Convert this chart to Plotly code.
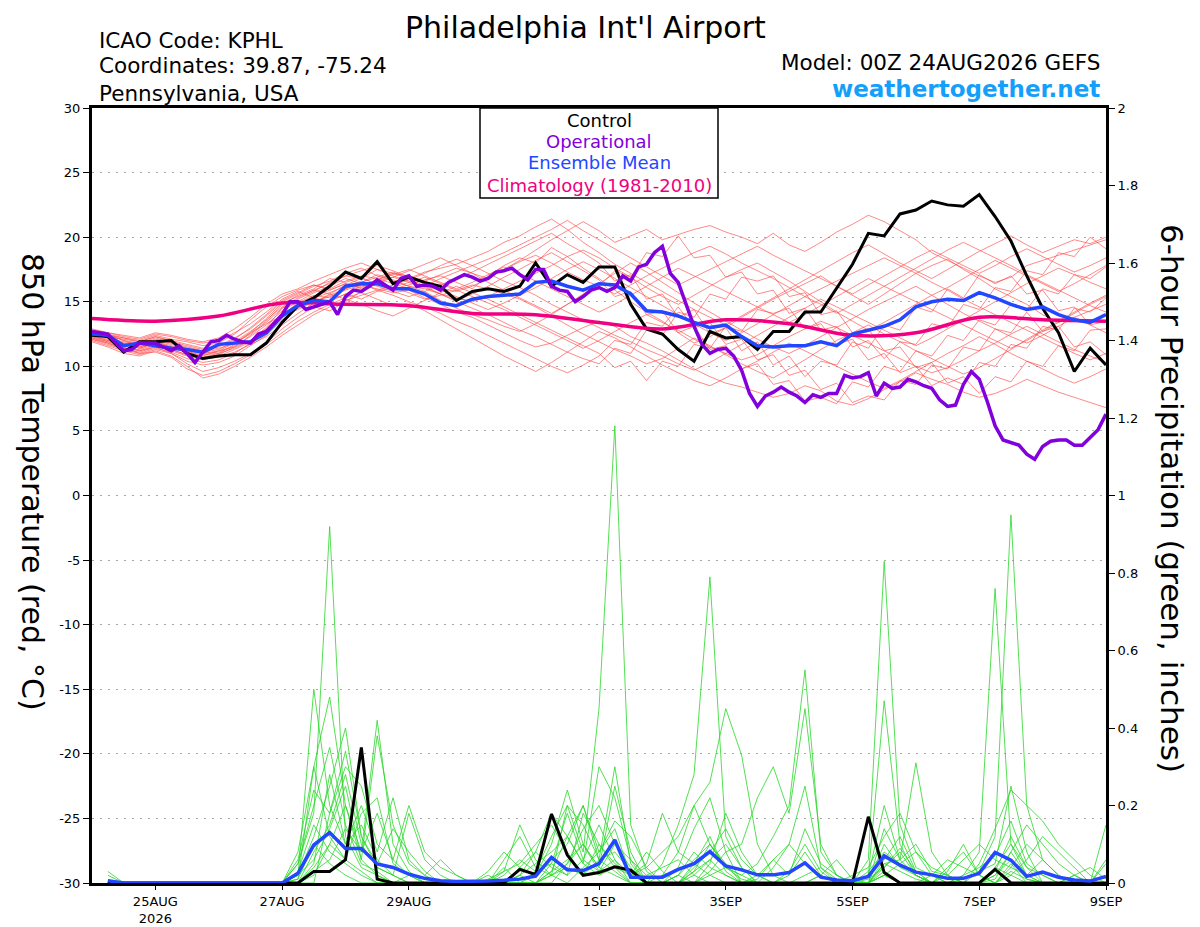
import pandas as pd
import plotly.graph_objects as go

# time axes (6-hourly ensemble, 3-hourly operational, daily climatology)
temp_times = pd.date_range("2026-08-24 00:00", periods=65, freq="6h")
precip_times = pd.date_range("2026-08-24 06:00", periods=64, freq="6h")
oper_times = pd.date_range("2026-08-24 00:00", periods=129, freq="3h")
clim_times = pd.date_range("2026-08-24 00:00", periods=17, freq="D")

tick_dates = ["2026-08-25", "2026-08-27", "2026-08-29", "2026-09-01",
              "2026-09-03", "2026-09-05", "2026-09-07", "2026-09-09"]
tick_labels = ["25AUG<br>2026", "27AUG", "29AUG", "1SEP", "3SEP", "5SEP", "7SEP", "9SEP"]
temp_ticks = [-30, -25, -20, -15, -10, -5, 0, 5, 10, 15, 20, 25, 30]
temp_tick_labels = ["-30", "-25", "-20", "-15", "-10", "-5", "0", "5", "10", "15", "20", "25", "30"]

control_temp = [
    12.4, 12.3, 11.1, 11.9, 11.9, 12.0, 11.0, 10.6, 10.8, 10.9, 10.9, 11.8, 13.4,
    14.7, 15.3, 16.2, 17.3, 16.8, 18.1, 16.4, 16.9, 16.5, 16.2, 15.1, 15.8, 16.0,
    15.8, 16.2, 18.0, 16.2, 17.1, 16.5, 17.7, 17.7, 14.8, 12.9, 12.5, 11.3, 10.4,
    12.7, 12.2, 12.3, 11.3, 12.7, 12.7, 14.2, 14.2, 16.1, 17.9, 20.3, 20.1, 21.8,
    22.1, 22.8, 22.5, 22.4, 23.3, 21.6, 19.7, 17.0, 14.5, 12.6, 9.6, 11.4, 10.1,
]

mean_temp = [
    12.5, 12.4, 11.6, 11.8, 11.6, 11.4, 11.3, 11.1, 11.7, 11.8, 11.9, 12.6, 13.9,
    14.7, 15.1, 15.0, 16.2, 16.4, 16.4, 16.0, 16.0, 15.6, 14.9, 14.7, 15.2, 15.4,
    15.5, 15.6, 16.5, 16.6, 16.2, 15.9, 16.4, 16.3, 15.6, 14.3, 14.2, 13.9, 13.4,
    13.0, 13.2, 12.3, 11.6, 11.5, 11.6, 11.6, 11.9, 11.6, 12.5, 12.8, 13.1, 13.6,
    14.6, 15.0, 15.2, 15.1, 15.7, 15.3, 14.8, 14.4, 14.6, 14.0, 13.6, 13.4, 14.0,
]

oper_temp = [
    12.7, 12.6, 12.5, 11.8, 11.2, 11.3, 11.8, 11.8, 11.8, 11.5, 11.2, 11.6, 11.0,
    10.3, 11.1, 11.9, 12.0, 12.4, 12.1, 11.9, 11.8, 12.5, 12.7, 13.4, 14.0, 15.0,
    15.0, 14.4, 14.6, 14.8, 15.0, 14.0, 15.4, 15.9, 15.8, 16.2, 16.7, 16.3, 15.9,
    16.8, 17.0, 16.2, 16.3, 16.2, 15.9, 16.5, 16.8, 17.1, 16.9, 16.6, 16.8, 17.3,
    17.4, 17.6, 17.1, 16.7, 17.5, 17.5, 16.2, 15.9, 15.8, 15.0, 15.4, 15.9, 16.1,
    15.8, 16.1, 17.0, 16.6, 17.7, 17.9, 18.8, 19.3, 17.2, 16.5, 14.8, 13.1, 11.7,
    11.0, 11.3, 11.4, 10.8, 9.7, 7.9, 6.9, 7.7, 8.0, 8.4, 8.0, 7.7, 7.2, 7.8, 7.6,
    7.9, 7.9, 9.3, 9.1, 9.2, 9.5, 7.7, 8.7, 8.3, 8.4, 9.0, 8.8, 8.5, 8.3, 7.4, 6.9,
    7.0, 8.6, 9.6, 9.0, 7.3, 5.4, 4.3, 4.1, 3.9, 3.2, 2.8, 3.8, 4.2, 4.3, 4.3, 3.9,
    3.9, 4.5, 5.1, 6.3,
]

clim_temp = [13.7, 13.5, 13.9, 14.9, 14.8, 14.7, 14.1, 14.0, 13.4,
             12.9, 13.6, 13.3, 12.4, 12.6, 13.8, 13.6, 13.5]

member_temps = [
    [12.6, 12.2, 11.8, 11.5, 11.9, 11.6, 11.0, 10.8, 11.2, 11.5, 12.0, 13.0, 14.5, 15.2, 15.8, 16.5,
     17.0, 16.8, 17.5, 17.2, 16.8, 16.5, 16.0, 15.8, 16.2, 16.8, 17.5, 18.2, 19.0, 19.8, 20.5, 21.2,
     20.5, 19.6, 20.1, 20.6, 19.8, 20.2, 20.6, 20.9, 20.4, 20.0, 19.5, 20.3, 19.4, 18.9, 19.6, 20.4,
     21.0, 21.7, 21.2, 20.5, 19.8, 18.8, 18.2, 17.6, 17.0, 16.5, 16.9, 17.8, 18.2, 18.6, 19.0, 19.4, 19.8],
    [12.2, 11.9, 11.4, 11.2, 11.5, 11.0, 10.4, 10.1, 10.3, 10.8, 11.6, 12.4, 13.6, 14.5, 15.0, 15.4,
     15.9, 16.3, 16.0, 15.7, 15.9, 15.3, 14.8, 14.2, 13.8, 13.2, 12.6, 12.0, 11.5, 11.8, 12.4, 13.0,
     13.5, 13.1, 12.3, 11.8, 11.2, 10.5, 9.8, 9.2, 8.7, 8.4, 8.0, 7.6, 7.9, 8.5, 8.1, 7.3,
     7.0, 7.5, 8.2, 8.8, 9.5, 9.0, 8.6, 8.0, 7.6, 7.9, 8.4, 9.0, 8.5, 8.0, 7.6, 7.2, 6.8],
    [12.8, 12.5, 12.0, 11.8, 12.2, 11.8, 11.5, 11.2, 11.4, 11.8, 12.5, 13.5, 14.8, 15.5, 16.0, 16.8,
     16.5, 16.9, 16.3, 16.0, 16.3, 16.7, 17.0, 16.5, 16.0, 17.0, 17.8, 18.4, 18.0, 19.2, 18.5, 17.6,
     16.8, 15.9, 15.0, 14.2, 13.5, 12.6, 11.8, 12.3, 13.0, 13.8, 14.5, 15.2, 15.8, 16.4, 17.0, 16.2,
     15.5, 14.8, 15.6, 16.4, 17.2, 17.8, 18.3, 17.5, 16.8, 16.0, 15.4, 14.8, 14.0, 13.4, 13.8, 14.3, 14.8],
    [12.0, 11.6, 11.2, 10.9, 11.3, 11.0, 10.2, 9.6, 9.9, 10.4, 11.0, 11.8, 12.9, 13.8, 14.6, 15.1,
     15.6, 15.2, 15.8, 16.1, 15.7, 15.2, 15.5, 15.9, 16.3, 16.0, 15.6, 15.2, 14.6, 13.9, 13.2, 12.5,
     11.9, 11.3, 10.8, 10.2, 10.6, 11.4, 12.2, 11.6, 10.9, 10.2, 9.6, 9.1, 9.8, 10.5, 11.3, 12.0,
     12.6, 13.2, 12.5, 11.9, 11.2, 10.6, 10.0, 9.4, 9.9, 10.6, 11.3, 12.1, 12.8, 13.5, 14.2, 14.9, 15.5],
    [12.5, 12.3, 12.1, 11.9, 12.3, 12.0, 11.7, 11.4, 11.6, 12.2, 12.9, 13.9, 15.0, 15.6, 16.2, 16.6,
     17.2, 17.6, 17.0, 16.6, 16.2, 16.0, 15.6, 15.3, 15.0, 15.4, 16.0, 16.6, 17.2, 17.8, 18.5, 19.0,
     18.4, 17.6, 16.9, 16.1, 15.4, 14.8, 15.5, 16.2, 16.9, 17.5, 18.0, 17.3, 16.6, 15.8, 15.0, 14.2,
     13.5, 12.8, 13.4, 14.1, 14.8, 15.5, 16.1, 16.8, 17.5, 18.2, 17.6, 17.0, 16.4, 15.8, 16.4, 17.1, 17.8],
    [12.3, 12.0, 11.6, 11.2, 11.6, 11.2, 10.8, 10.5, 10.8, 11.3, 11.9, 12.6, 13.9, 14.8, 15.4, 15.9,
     16.4, 16.0, 16.6, 16.9, 16.5, 16.9, 16.4, 15.9, 15.4, 14.9, 14.4, 13.8, 13.2, 12.6, 12.0, 11.4,
     12.0, 12.7, 13.4, 14.0, 13.4, 12.8, 12.1, 11.5, 11.0, 10.5, 10.9, 11.6, 12.3, 12.9, 13.5, 13.0,
     12.4, 11.8, 11.2, 10.6, 10.0, 9.5, 9.9, 10.5, 11.2, 11.8, 12.5, 13.1, 12.5, 11.9, 11.3, 10.8, 10.3],
    [12.7, 12.4, 12.2, 12.0, 12.4, 12.1, 11.9, 11.6, 11.8, 12.5, 13.6, 14.6, 15.4, 15.9, 16.3, 16.0,
     16.6, 17.0, 16.8, 16.4, 16.8, 17.3, 17.6, 17.9, 18.4, 18.9, 19.6, 20.1, 20.8, 21.4, 20.6, 19.6,
     18.8, 17.9, 17.2, 16.5, 15.8, 15.1, 14.4, 13.8, 13.2, 13.9, 14.6, 15.3, 16.0, 16.7, 17.4, 18.1,
     18.8, 19.4, 18.7, 18.0, 17.4, 16.8, 17.5, 18.2, 18.9, 19.5, 20.1, 19.4, 18.8, 19.3, 19.8, 19.5, 20.0],
    [12.1, 11.7, 11.3, 11.0, 11.1, 10.7, 9.8, 9.3, 9.6, 10.2, 10.9, 11.7, 12.6, 13.5, 14.2, 14.8,
     15.3, 15.7, 15.2, 14.7, 14.9, 14.3, 13.6, 12.9, 12.2, 11.5, 10.8, 10.2, 9.6, 10.3, 11.1, 11.9,
     12.7, 12.2, 11.5, 10.8, 10.1, 9.5, 8.9, 8.5, 9.1, 9.8, 10.4, 11.1, 11.8, 11.2, 10.6, 10.0,
     9.4, 8.8, 8.3, 8.9, 9.6, 10.3, 11.0, 11.6, 12.3, 11.7, 11.0, 10.4, 9.8, 9.2, 8.7, 9.2, 9.8],
    [12.9, 12.6, 12.3, 12.1, 12.5, 12.3, 12.0, 11.8, 12.0, 12.6, 13.3, 14.2, 15.2, 15.8, 15.3, 15.0,
     15.6, 16.2, 16.7, 17.2, 17.0, 16.6, 17.1, 17.6, 17.2, 16.8, 17.5, 18.1, 18.6, 18.0, 17.3, 16.7,
     16.2, 15.6, 16.3, 17.0, 17.6, 18.2, 18.8, 19.3, 18.7, 18.0, 17.4, 16.8, 16.1, 15.4, 14.8, 14.1,
     14.8, 15.5, 16.2, 16.9, 17.6, 18.3, 19.0, 19.6, 19.0, 18.4, 17.8, 17.1, 16.5, 15.9, 15.3, 14.7, 14.2],
    [12.4, 12.1, 11.5, 11.0, 11.4, 11.1, 10.6, 10.3, 10.5, 11.0, 11.8, 12.8, 14.0, 14.9, 15.5, 15.3,
     16.0, 16.5, 17.1, 16.7, 16.2, 15.8, 15.1, 14.5, 14.0, 13.6, 13.1, 12.7, 13.3, 14.0, 14.8, 15.6,
     16.4, 17.2, 18.0, 17.3, 16.5, 15.7, 14.9, 14.2, 13.5, 12.8, 12.1, 11.5, 11.0, 11.6, 12.3, 13.0,
     13.7, 14.4, 15.0, 15.6, 16.2, 15.5, 14.8, 14.1, 13.5, 12.9, 12.3, 11.8, 12.4, 13.1, 13.8, 13.2, 12.6],
    [12.6, 12.4, 12.0, 11.6, 12.0, 11.7, 11.3, 11.0, 11.1, 11.6, 12.3, 13.2, 14.3, 15.0, 15.7, 16.2,
     16.8, 16.4, 15.9, 16.3, 16.7, 17.2, 17.8, 18.3, 17.8, 17.2, 16.6, 16.1, 15.5, 14.8, 14.2, 13.6,
     13.0, 12.4, 11.9, 11.3, 10.8, 10.2, 9.7, 10.3, 11.0, 11.7, 12.4, 13.1, 13.8, 14.5, 15.2, 14.6,
     14.0, 13.4, 12.8, 12.2, 11.6, 12.2, 12.9, 13.6, 14.3, 15.0, 15.7, 16.4, 17.0, 17.6, 17.1, 16.5, 16.0],
    [12.2, 11.8, 11.4, 11.3, 11.7, 11.4, 11.1, 10.9, 11.0, 11.4, 12.0, 12.9, 14.1, 14.6, 15.3, 15.7,
     16.2, 16.6, 16.2, 15.8, 15.4, 15.8, 16.3, 16.8, 17.3, 17.9, 18.5, 19.1, 19.7, 20.3, 19.5, 18.8,
     18.0, 16.6, 17.1, 15.2, 15.6, 13.8, 14.4, 12.5, 13.0, 11.2, 11.9, 10.1, 10.8, 9.2, 10.4, 10.1,
     11.9, 11.4, 13.2, 12.8, 14.6, 14.2, 16.0, 15.3, 17.1, 16.4, 17.0, 15.6, 15.9, 14.3, 14.6, 13.2, 13.5],
    [12.5, 12.2, 11.9, 11.7, 12.1, 11.8, 11.4, 11.1, 11.3, 11.9, 12.7, 13.6, 14.6, 15.3, 15.9, 16.4,
     17.0, 17.4, 17.8, 17.4, 16.9, 16.4, 15.9, 15.4, 14.9, 14.4, 14.9, 15.5, 16.1, 16.8, 17.5, 18.1,
     17.5, 16.8, 16.1, 15.4, 14.7, 14.0, 13.3, 12.6, 12.0, 12.6, 13.3, 14.0, 14.7, 15.4, 16.0, 16.6,
     17.2, 17.8, 18.4, 17.8, 17.2, 16.5, 15.9, 15.2, 14.6, 14.0, 13.4, 12.8, 12.2, 11.6, 11.0, 10.5, 11.0],
    [12.3, 11.9, 11.7, 11.4, 11.8, 11.5, 11.2, 10.7, 11.0, 11.7, 12.6, 13.7, 14.9, 15.4, 15.9, 15.6,
     15.2, 14.8, 14.3, 13.9, 14.5, 15.1, 15.7, 16.2, 15.7, 15.2, 14.6, 14.0, 13.4, 12.8, 12.2, 11.6,
     11.0, 9.9, 10.4, 8.9, 10.4, 10.0, 11.7, 11.4, 13.1, 12.7, 14.4, 14.1, 14.5, 12.9, 13.3, 11.7,
     12.1, 10.5, 11.0, 9.5, 10.0, 8.5, 9.1, 8.6, 10.3, 10.0, 11.7, 11.4, 13.1, 12.8, 14.5, 14.2, 15.3],
    [12.8, 12.6, 12.4, 12.2, 12.6, 12.4, 12.1, 11.9, 12.2, 12.9, 13.8, 14.8, 15.6, 16.0, 16.6, 17.1,
     17.6, 18.0, 17.5, 17.0, 16.6, 16.2, 16.8, 17.3, 17.8, 18.3, 18.8, 19.4, 20.0, 20.6, 21.3, 20.5,
     19.8, 19.1, 18.4, 17.7, 17.0, 16.3, 16.9, 17.5, 18.1, 18.7, 19.3, 18.6, 18.0, 17.4, 16.8, 16.2,
     15.6, 16.3, 17.0, 17.7, 18.4, 19.0, 18.4, 17.8, 17.2, 17.8, 18.5, 19.1, 18.5, 17.9, 17.3, 17.8, 18.4],
    [11.9, 11.5, 11.0, 10.8, 11.2, 10.8, 10.0, 9.1, 9.4, 10.0, 10.7, 11.5, 12.4, 13.2, 14.0, 14.6,
     15.1, 15.5, 15.9, 15.5, 15.0, 14.6, 14.1, 13.5, 13.0, 12.4, 11.8, 11.2, 10.6, 10.0, 9.5, 10.1,
     10.8, 12.0, 11.7, 13.4, 13.1, 14.6, 13.0, 13.4, 11.7, 12.1, 10.5, 10.9, 9.3, 9.7, 8.2, 8.7,
     7.2, 7.7, 7.4, 8.9, 8.6, 10.1, 9.8, 11.5, 11.2, 12.9, 12.6, 14.2, 12.7, 13.1, 11.5, 11.9, 10.9],
    [12.6, 12.3, 11.7, 11.4, 11.8, 11.3, 10.9, 10.6, 10.9, 11.5, 12.4, 13.4, 14.5, 15.1, 14.6, 14.3,
     15.0, 15.8, 16.4, 16.9, 17.4, 17.9, 18.4, 17.8, 17.2, 16.5, 15.9, 15.3, 14.7, 14.1, 14.8, 15.5,
     16.2, 17.4, 16.9, 18.8, 18.5, 20.1, 18.4, 18.6, 16.9, 17.3, 15.6, 15.9, 14.1, 14.5, 12.8, 13.1,
     11.5, 12.0, 10.6, 11.9, 11.7, 13.3, 13.0, 14.8, 14.4, 16.1, 15.8, 17.4, 17.1, 18.8, 18.5, 20.0, 19.1],
    [12.4, 12.0, 11.8, 11.5, 11.9, 11.5, 11.2, 11.0, 11.2, 11.8, 12.6, 13.3, 13.9, 14.4, 15.0, 15.5,
     16.0, 16.5, 16.9, 17.3, 16.8, 16.2, 15.6, 15.1, 15.6, 16.2, 16.9, 17.5, 18.2, 18.8, 18.1, 17.4,
     16.7, 15.4, 15.8, 14.0, 14.3, 12.6, 13.1, 11.3, 11.6, 9.8, 10.2, 8.6, 8.9, 7.3, 7.6, 7.1,
     8.8, 8.4, 10.0, 9.6, 11.2, 10.8, 12.4, 12.0, 13.6, 13.2, 14.8, 14.4, 16.0, 15.6, 17.1, 16.8, 17.7],
    [12.1, 11.8, 11.3, 11.1, 11.5, 11.3, 10.9, 10.6, 10.7, 11.1, 11.7, 12.3, 13.2, 14.1, 14.9, 15.6,
     16.3, 16.8, 16.4, 16.1, 16.5, 16.1, 15.6, 15.0, 14.5, 14.0, 13.4, 12.8, 12.3, 11.7, 11.1, 10.6,
     10.2, 11.4, 11.0, 12.8, 12.4, 14.2, 13.8, 15.6, 15.2, 16.9, 16.6, 17.0, 15.4, 15.7, 14.0, 14.3,
     12.6, 12.9, 11.2, 11.5, 9.9, 10.3, 8.7, 9.2, 7.9, 9.2, 8.8, 10.4, 10.0, 11.6, 11.2, 12.8, 12.9],
    [12.7, 12.5, 12.2, 11.9, 12.3, 11.9, 11.6, 11.3, 11.5, 12.1, 13.0, 14.0, 15.1, 15.7, 16.3, 15.9,
     16.4, 16.1, 16.7, 17.1, 17.5, 17.0, 16.5, 16.0, 16.5, 17.1, 17.7, 17.2, 16.6, 16.0, 15.4, 14.8,
     14.2, 14.8, 15.5, 16.2, 16.9, 17.6, 17.0, 16.4, 15.8, 15.2, 14.6, 14.0, 13.4, 14.0, 14.7, 15.4,
     16.1, 16.8, 16.2, 15.6, 15.0, 14.4, 13.8, 13.2, 12.6, 12.0, 11.4, 12.0, 12.7, 13.4, 14.1, 14.8, 15.4],
]

control_precip = [
    0, 0, 0, 0, 0, 0, 0, 0, 0, 0, 0, 0, 0, 0.03, 0.03, 0.06,
    0.35, 0.01, 0, 0, 0, 0, 0, 0, 0, 0, 0.035, 0.022, 0.178, 0.072, 0.02, 0.027,
    0.042, 0.033, 0, 0, 0, 0, 0, 0, 0, 0, 0, 0, 0, 0, 0, 0,
    0.171, 0.027, 0, 0, 0, 0, 0, 0, 0.035, 0, 0, 0, 0, 0, 0, 0,
]

mean_precip = [
    0.006, 0, 0, 0, 0, 0, 0, 0, 0, 0, 0, 0, 0.025, 0.098, 0.13, 0.089,
    0.089, 0.049, 0.04, 0.023, 0.012, 0.006, 0.004, 0.004, 0.005, 0.007, 0.01, 0.018, 0.066, 0.034, 0.032, 0.05,
    0.111, 0.015, 0.015, 0.015, 0.035, 0.05, 0.081, 0.044, 0.034, 0.021, 0.021, 0.027, 0.052, 0.015, 0.008, 0.006,
    0.017, 0.07, 0.046, 0.028, 0.021, 0.012, 0.012, 0.025, 0.079, 0.059, 0.017, 0.028, 0.015, 0.008, 0.005, 0.017,
]

member_precips = [
    [0.03, 0, 0, 0, 0, 0, 0, 0, 0, 0, 0, 0, 0.05, 0.18, 0.92, 0.12, 0.04, 0.02, 0, 0, 0, 0, 0, 0,
     0, 0, 0.02, 0.05, 0.08, 0.12, 0.05, 0.02, 0.04, 0, 0, 0, 0, 0.05, 0.12, 0.03, 0, 0, 0, 0.02,
     0.08, 0.02, 0, 0, 0, 0.06, 0.12, 0.03, 0, 0, 0, 0, 0.02, 0.06, 0.01, 0, 0, 0, 0, 0],
    [0, 0, 0, 0, 0, 0, 0, 0, 0, 0, 0, 0, 0, 0.08, 0.15, 0.28, 0.1, 0.04, 0.02, 0, 0, 0, 0, 0,
     0, 0.02, 0.06, 0.03, 0.12, 0.2, 0.08, 0.45, 1.18, 0.15, 0.03, 0, 0, 0, 0.02, 0.04, 0.02, 0, 0, 0,
     0, 0, 0, 0, 0.02, 0.47, 0.1, 0.02, 0, 0, 0, 0.03, 0.05, 0.25, 0.08, 0, 0, 0.02, 0, 0.05],
    [0, 0, 0, 0, 0, 0, 0, 0, 0, 0, 0, 0, 0.02, 0.5, 0.2, 0.1, 0.15, 0.06, 0.02, 0, 0, 0, 0, 0,
     0, 0, 0, 0.03, 0.05, 0.18, 0.06, 0.03, 0.1, 0.04, 0, 0.05, 0.15, 0.28, 0.79, 0.12, 0.04, 0, 0, 0,
     0, 0, 0, 0, 0, 0.04, 0.08, 0.02, 0, 0.03, 0.1, 0.02, 0, 0.05, 0, 0, 0, 0, 0, 0],
    [0, 0, 0, 0, 0, 0, 0, 0, 0, 0, 0, 0, 0.01, 0.3, 0.48, 0.2, 0.08, 0.42, 0.1, 0.03, 0, 0, 0, 0,
     0, 0, 0, 0, 0.02, 0.05, 0.1, 0.04, 0.25, 0.08, 0, 0, 0, 0.03, 0.06, 0.02, 0, 0, 0, 0,
     0.02, 0.04, 0.01, 0, 0.06, 0.83, 0.15, 0.04, 0.02, 0, 0, 0, 0.01, 0.08, 0.02, 0, 0, 0, 0, 0],
    [0, 0, 0, 0, 0, 0, 0, 0, 0, 0, 0, 0, 0, 0.04, 0.1, 0.06, 0.18, 0.22, 0.05, 0.02, 0, 0, 0, 0,
     0.01, 0.03, 0.05, 0.1, 0.15, 0.08, 0.02, 0.1, 0.05, 0.02, 0, 0, 0.02, 0.06, 0.1, 0.04, 0.01, 0, 0, 0,
     0, 0, 0, 0, 0, 0.02, 0.05, 0.08, 0.02, 0, 0.01, 0.03, 0.12, 0.95, 0.2, 0.06, 0.02, 0, 0, 0],
    [0, 0, 0, 0, 0, 0, 0, 0, 0, 0, 0, 0, 0.02, 0.12, 0.25, 0.4, 0.12, 0.04, 0.02, 0.18, 0.06, 0.02, 0, 0,
     0, 0, 0, 0, 0.03, 0.06, 0.1, 0.04, 0.02, 0, 0, 0.02, 0.08, 0.2, 0.1, 0.04, 0.02, 0.05, 0.12, 0.2,
     0.55, 0.08, 0.02, 0, 0, 0.03, 0, 0, 0, 0, 0.02, 0.08, 0.76, 0.1, 0.04, 0, 0, 0, 0, 0],
    [0, 0, 0, 0, 0, 0, 0, 0, 0, 0, 0, 0, 0, 0, 0.18, 0.3, 0.25, 0.1, 0.06, 0.2, 0.08, 0.04, 0.02, 0,
     0, 0, 0.04, 0.08, 0.04, 0.02, 0.06, 0.15, 0.06, 0.02, 0.04, 0.08, 0.12, 0.2, 0.26, 0.45, 0.33, 0.1, 0.02, 0,
     0, 0.02, 0, 0, 0, 0.05, 0.06, 0.31, 0.08, 0.02, 0, 0, 0, 0.03, 0.01, 0, 0, 0, 0, 0.15],
    [0.02, 0, 0, 0, 0, 0, 0, 0, 0, 0, 0, 0, 0.03, 0.15, 0.08, 0.05, 0.02, 0, 0, 0, 0, 0, 0, 0,
     0, 0, 0.02, 0.08, 0.18, 0.12, 0.05, 0.3, 0.22, 0.06, 0, 0, 0, 0, 0.03, 0.08, 0.1, 0.22, 0.3, 0.18,
     0.45, 0.1, 0.02, 0, 0, 0.02, 0, 0, 0, 0.04, 0.08, 0.02, 0, 0.02, 0, 0, 0, 0, 0, 0],
    [0, 0, 0, 0, 0, 0, 0, 0, 0, 0, 0, 0, 0.05, 0.2, 0.35, 0.15, 0.05, 0.03, 0, 0.02, 0.01, 0, 0, 0,
     0, 0.03, 0.15, 0.06, 0.02, 0.2, 0.15, 0.06, 0.3, 0.05, 0, 0, 0.04, 0.14, 0.22, 0.08, 0, 0, 0.04, 0.1,
     0.25, 0.04, 0, 0, 0.02, 0.2, 0.06, 0.1, 0.03, 0.02, 0, 0, 0.04, 0.1, 0.02, 0.06, 0.02, 0, 0, 0],
    [0, 0, 0, 0, 0, 0, 0, 0, 0, 0, 0, 0, 0, 0.02, 0.1, 0.2, 0.06, 0.38, 0.15, 0.05, 0.02, 0, 0, 0,
     0, 0, 0, 0.02, 0.06, 0.1, 0.2, 0.08, 0.14, 0.02, 0.05, 0.18, 0.08, 0.05, 0.02, 0, 0, 0.02, 0.06, 0.1,
     0.05, 0.02, 0, 0, 0, 0.1, 0.04, 0.02, 0, 0, 0, 0.05, 0.14, 0.24, 0.2, 0.16, 0.1, 0.06, 0.02, 0],
    [0, 0, 0, 0, 0, 0, 0, 0, 0, 0, 0, 0, 0.06, 0.24, 0.18, 0.34, 0.12, 0.05, 0.14, 0.08, 0.03, 0, 0, 0,
     0, 0.06, 0.12, 0.04, 0.02, 0.04, 0.02, 0.06, 0.08, 0.03, 0, 0, 0, 0.04, 0.08, 0.14, 0.06, 0.02, 0, 0,
     0, 0, 0, 0.02, 0.04, 0.12, 0.18, 0.08, 0.04, 0.02, 0.06, 0.1, 0.06, 0.04, 0.02, 0, 0, 0, 0, 0],
    [0, 0, 0, 0, 0, 0, 0, 0, 0, 0, 0, 0, 0, 0.05, 0.28, 0.1, 0.2, 0.08, 0.22, 0.06, 0.02, 0.06, 0.02, 0,
     0, 0, 0, 0, 0.03, 0.12, 0.2, 0.06, 0.03, 0, 0, 0, 0.02, 0, 0.05, 0.18, 0.08, 0.02, 0, 0,
     0, 0, 0, 0, 0.01, 0.04, 0.09, 0.03, 0, 0, 0.02, 0.04, 0.07, 0.16, 0.05, 0.02, 0, 0.02, 0.04, 0.01],
    [0, 0, 0, 0, 0, 0, 0, 0, 0, 0, 0, 0, 0.01, 0.1, 0.05, 0.02, 0, 0, 0, 0, 0, 0, 0, 0,
     0.03, 0.08, 0.04, 0.02, 0.1, 0.24, 0.1, 0.03, 0.06, 0, 0, 0, 0.02, 0.08, 0.04, 0.02, 0, 0, 0, 0,
     0, 0, 0, 0, 0.03, 0.08, 0.05, 0.02, 0, 0, 0, 0, 0.02, 0.08, 0.15, 0.1, 0.05, 0.02, 0, 0],
    [0, 0, 0, 0, 0, 0, 0, 0, 0, 0, 0, 0, 0, 0.03, 0.06, 0.14, 0.08, 0.18, 0.06, 0.02, 0, 0, 0, 0,
     0, 0, 0, 0, 0, 0.05, 0.14, 0.2, 0.1, 0.06, 0.02, 0.04, 0.06, 0.02, 0, 0, 0, 0.01, 0.06, 0.02,
     0.14, 0.05, 0.02, 0, 0, 0.05, 0.03, 0.01, 0, 0, 0, 0, 0.04, 0.02, 0.06, 0.12, 0.08, 0.04, 0, 0],
    [0, 0, 0, 0, 0, 0, 0, 0, 0, 0, 0, 0, 0.08, 0.3, 0.12, 0.06, 0.03, 0, 0, 0, 0, 0, 0, 0,
     0.02, 0, 0.02, 0, 0.05, 0.02, 0.18, 0.1, 0.04, 0.02, 0.08, 0.03, 0, 0.02, 0.06, 0.1, 0.04, 0, 0, 0,
     0, 0.02, 0.06, 0.01, 0, 0.02, 0, 0, 0.02, 0.06, 0.04, 0.02, 0, 0.04, 0.1, 0.06, 0.02, 0, 0, 0.06],
    [0, 0, 0, 0, 0, 0, 0, 0, 0, 0, 0, 0, 0.02, 0.06, 0.14, 0.25, 0.06, 0.02, 0, 0, 0, 0, 0, 0,
     0, 0.04, 0, 0, 0.02, 0, 0.04, 0.08, 0.16, 0.12, 0.04, 0, 0, 0.03, 0.1, 0.05, 0, 0, 0, 0.03,
     0.1, 0.03, 0, 0, 0, 0.14, 0.06, 0.02, 0, 0.02, 0, 0, 0.03, 0.12, 0.04, 0.02, 0, 0, 0, 0],
]

FONT = "DejaVu Sans, Liberation Sans, Arial, sans-serif"
RED = "rgba(255,70,70,0.8)"
GREEN = "rgb(40,215,40)"
PURPLE = "rgb(130,0,220)"
BLUE = "rgb(35,70,255)"
PINK = "rgb(240,0,128)"

# the page body adds an 8px offset, so the figure is drawn 8px smaller
PAGE_OFFSET = 8

fig = go.Figure()

for vals in member_temps:
    fig.add_trace(go.Scatter(x=temp_times, y=vals, mode="lines",
                             line=dict(color=RED, width=0.8), hoverinfo="skip"))

for vals in member_precips:
    fig.add_trace(go.Scatter(x=precip_times, y=vals, mode="lines", yaxis="y2",
                             line=dict(color=GREEN, width=0.8), hoverinfo="skip"))

fig.add_trace(go.Scatter(x=precip_times, y=control_precip, mode="lines", yaxis="y2",
                         line=dict(color="black", width=3)))
fig.add_trace(go.Scatter(x=precip_times, y=mean_precip, mode="lines", yaxis="y2",
                         line=dict(color=BLUE, width=3.5)))

fig.add_trace(go.Scatter(x=temp_times, y=control_temp, mode="lines",
                         line=dict(color="black", width=3)))
fig.add_trace(go.Scatter(x=clim_times, y=clim_temp, mode="lines",
                         line=dict(color=PINK, width=3.5, shape="spline")))
fig.add_trace(go.Scatter(x=temp_times, y=mean_temp, mode="lines",
                         line=dict(color=BLUE, width=3.5)))
fig.add_trace(go.Scatter(x=oper_times, y=oper_temp, mode="lines",
                         line=dict(color=PURPLE, width=3.5)))


# plot area spans x 92..1106 and y 108..883 in page pixels
def px_x(px):
    return (px - 92) / 1014


def px_y(py):
    return (883 - py) / 775


annotations = [
    dict(text="Philadelphia Int'l Airport", x=px_x(585), y=px_y(9), yanchor="top",
         borderpad=0, font=dict(size=30)),
    dict(text="ICAO Code: KPHL", x=px_x(97), y=px_y(40), xanchor="left", font=dict(size=21.5)),
    dict(text="Coordinates: 39.87, -75.24", x=px_x(97), y=px_y(66), xanchor="left", font=dict(size=21.5)),
    dict(text="Pennsylvania, USA", x=px_x(97), y=px_y(93), xanchor="left", font=dict(size=21.5)),
    dict(text="Model: 00Z 24AUG2026 GEFS", x=px_x(1102), y=px_y(63), xanchor="right", font=dict(size=21.5)),
    dict(text="<b>weathertogether.net</b>", x=px_x(1102), y=px_y(89), xanchor="right",
         font=dict(size=23, color="rgb(20,160,250)")),
    dict(text="Control", x=px_x(599), y=px_y(121), font=dict(size=18, color="black")),
    dict(text="Operational", x=px_x(599), y=px_y(142), font=dict(size=18, color=PURPLE)),
    dict(text="Ensemble Mean", x=px_x(599), y=px_y(163), font=dict(size=18, color=BLUE)),
    dict(text="Climatology (1981-2010)", x=px_x(599), y=px_y(185), font=dict(size=18, color=PINK)),
    dict(text="850 hPa Temperature (red, °C)", x=px_x(33), y=px_y(482), textangle=90,
         font=dict(size=30)),
    dict(text="6-hour Precipitation (green, inches)", x=px_x(1172), y=px_y(498), textangle=90,
         font=dict(size=31)),
]
for a in annotations:
    a.setdefault("xanchor", "center")
    a.setdefault("yanchor", "middle")
    a["xref"] = "paper"
    a["yref"] = "paper"
    a["showarrow"] = False

fig.update_layout(
    width=1200 - PAGE_OFFSET,
    height=927 - PAGE_OFFSET,
    autosize=False,
    margin=dict(l=92 - PAGE_OFFSET, r=94, t=108 - PAGE_OFFSET, b=44),
    paper_bgcolor="white",
    plot_bgcolor="white",
    showlegend=False,
    font=dict(family=FONT, color="black"),
    annotations=annotations,
    shapes=[dict(type="rect", xref="paper", yref="paper",
                 x0=px_x(480), x1=px_x(718), y0=px_y(198), y1=px_y(108),
                 line=dict(color="black", width=1.5), fillcolor="white", layer="above")],
    xaxis=dict(
        range=["2026-08-24 00:00", "2026-09-09 00:00"],
        tickvals=tick_dates, ticktext=tick_labels,
        showgrid=False, zeroline=False,
        showline=True, linecolor="black", linewidth=3, mirror=True,
        ticks="outside", ticklen=4, tickcolor="black",
        tickfont=dict(size=13), automargin=False,
    ),
    yaxis=dict(
        range=[-30, 30], tickvals=temp_ticks, ticktext=temp_tick_labels,
        showgrid=True, gridcolor="#a8a8a8", gridwidth=1, griddash="2px,6px",
        zeroline=False,
        showline=True, linecolor="black", linewidth=3,
        ticks="outside", ticklen=6, tickcolor="black",
        tickfont=dict(size=13), automargin=False,
    ),
    yaxis2=dict(
        range=[0, 2], tick0=0, dtick=0.2,
        overlaying="y", side="right",
        showgrid=False, zeroline=False,
        showline=True, linecolor="black", linewidth=3,
        ticks="outside", ticklen=6, tickcolor="black",
        tickfont=dict(size=13), automargin=False,
    ),
)

fig.write_html("out.html")
